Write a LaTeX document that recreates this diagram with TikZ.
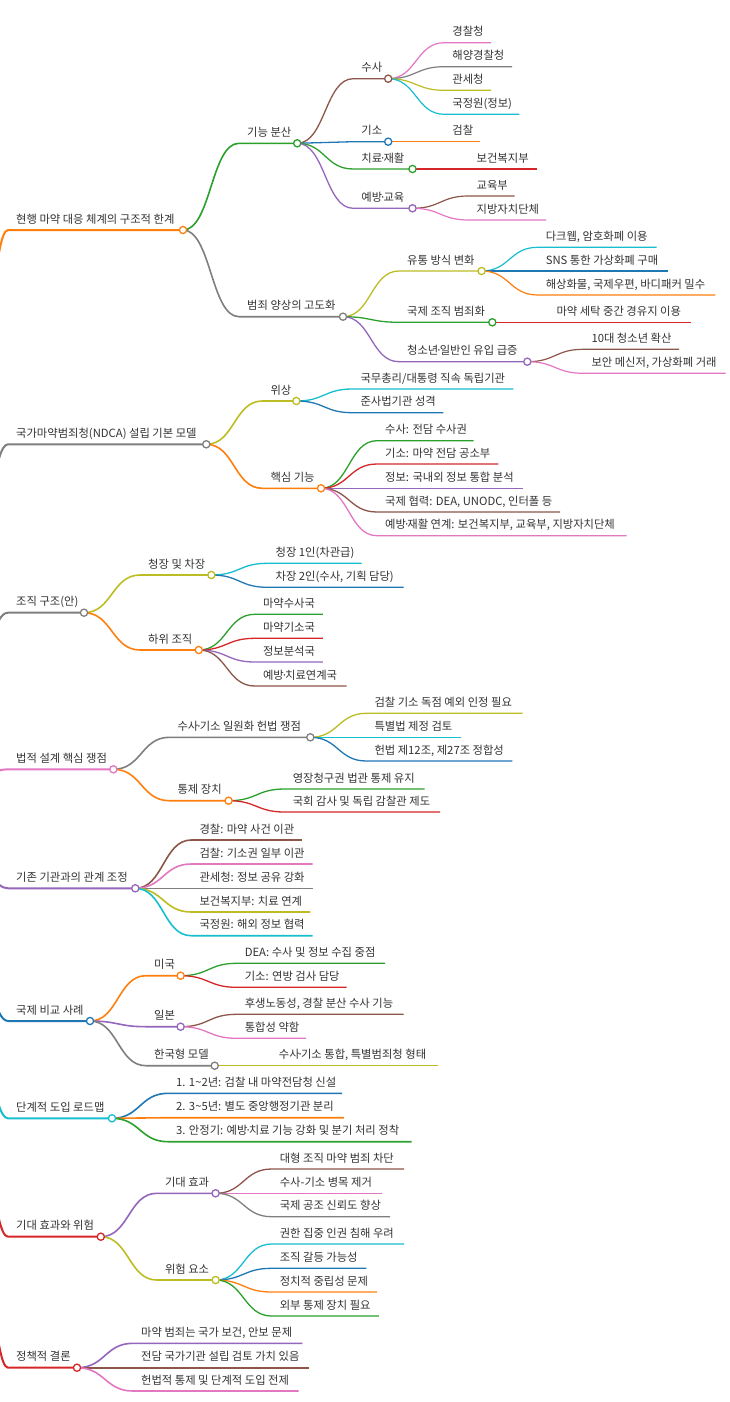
\documentclass[tikz,border=0pt]{standalone}
\usepackage{fontspec}
\newfontfamily\krfont{Noto Sans CJK KR}
\usetikzlibrary{calc}
\pgfdeclarelayer{bg}
\pgfsetlayers{bg,main}
\definecolor{cblue}{HTML}{1F77B4}
\definecolor{corange}{HTML}{FF7F0E}
\definecolor{cgreen}{HTML}{2CA02C}
\definecolor{cred}{HTML}{D62728}
\definecolor{cpurple}{HTML}{9467BD}
\definecolor{cbrown}{HTML}{8C564B}
\definecolor{cpink}{HTML}{E377C2}
\definecolor{cgray}{HTML}{7F7F7F}
\definecolor{colive}{HTML}{BCBD22}
\definecolor{ccyan}{HTML}{17BECF}
\definecolor{textgray}{HTML}{333333}
\newcommand\md{\kern-0.22em·\kern-0.22em}
\tikzset{
  lva/.style={line width=2pt},
  lvb/.style={line width=1.6pt},
  lvc/.style={line width=1.3pt},
  lvd/.style={line width=1.2pt},
  lbl/.style={anchor=base west, inner sep=0pt, text=textgray, font=\krfont\fontsize{11.3}{13}\selectfont},
  dot/.style={circle, fill=white, inner sep=0pt, minimum size=7.2pt, line width=1.3pt},
}
% #1 name, #2 parent, #3 level style, #4 colour, #5 left x, #6 y, #7 right x, #8 text
\newcommand\mmleaf[8]{%
  \coordinate (#1-l) at (#5,#6);
  \coordinate (#1-r) at (#7,#6);
  \begin{pgfonlayer}{bg}
    \draw[#3,#4] let \p1=(#2), \p2=(#1-l) in
      (\p1) .. controls ({(\x1+\x2)/2},\y1) and ({(\x1+\x2)/2},\y2) .. (\p2) -- (#1-r);
  \end{pgfonlayer}
  \node[lbl] (#1-t) at ([xshift=8pt,yshift=6.8pt]#1-l) {#8};
}
\newcommand\mmnode[8]{%
  \mmleaf{#1}{#2}{#3}{#4}{#5}{#6}{#7}{#8}
  \node[dot, draw=#4] (#1) at (#1-r) {};
}
\begin{document}
\begin{tikzpicture}[x=1pt,y=-1pt]
\begin{pgfonlayer}{bg}
\fill[white] (0,0) rectangle (729,1402);
\end{pgfonlayer}
\useasboundingbox (0,0) rectangle (729,1402);
\coordinate (root) at (-48,799);

% 1
\mmnode{a}{root}{lva}{corange}{8}{230}{183}{현행 마약 대응 체계의 구조적 한계}
\mmnode{a1}{a}{lvb}{cgreen}{239}{143.3}{297.2}{기능 분산}
\mmnode{a11}{a1}{lvc}{cbrown}{353.2}{78.7}{388.2}{수사}
\mmleaf{a111}{a11}{lvd}{cpink}{444.2}{42.7}{491}{경찰청}
\mmleaf{a112}{a11}{lvd}{cgray}{444.2}{66.7}{512}{해양경찰청}
\mmleaf{a113}{a11}{lvd}{colive}{444.2}{90.3}{491}{관세청}
\mmleaf{a114}{a11}{lvd}{ccyan}{444.2}{114.3}{519.4}{국정원(정보)}
\mmnode{a12}{a1}{lvc}{cblue}{353.2}{141.7}{388.2}{기소}
\mmleaf{a121}{a12}{lvd}{corange}{444.2}{141.7}{479.7}{검찰}
\mmnode{a13}{a1}{lvc}{cgreen}{353.2}{169}{412.5}{치료\md 재활}
\mmleaf{a131}{a13}{lvd}{cred}{468.5}{169}{536.6}{보건복지부}
\mmnode{a14}{a1}{lvc}{cpurple}{353.2}{208.3}{412.5}{예방\md 교육}
\mmleaf{a141}{a14}{lvd}{cbrown}{468.5}{196}{514.7}{교육부}
\mmleaf{a142}{a14}{lvd}{cpink}{468.5}{220}{546}{지방자치단체}
\mmnode{a2}{a}{lvb}{cgray}{239}{316.7}{343}{범죄 양상의 고도화}
\mmnode{a21}{a2}{lvc}{colive}{399}{271}{481.6}{유통 방식 변화}
\mmleaf{a211}{a21}{lvd}{ccyan}{537.6}{247.3}{656.6}{다크웹, 암호화폐 이용}
\mmleaf{a212}{a21}{lvd}{cblue}{537.6}{271}{668.2}{SNS 통한 가상화폐 구매}
\mmleaf{a213}{a21}{lvd}{corange}{537.6}{295}{715.3}{해상화물, 국제우편, 바디패커 밀수}
\mmnode{a22}{a2}{lvc}{cgreen}{399}{322.3}{492.3}{국제 조직 범죄화}
\mmleaf{a221}{a22}{lvd}{cred}{548.3}{322.3}{690.6}{마약 세탁 중간 경유지 이용}
\mmnode{a23}{a2}{lvc}{cpurple}{399}{361.7}{527.3}{청소년\md 일반인 유입 급증}
\mmleaf{a231}{a23}{lvd}{cbrown}{583.3}{349.3}{679}{10대 청소년 확산}
\mmleaf{a232}{a23}{lvd}{cpink}{583.3}{373.3}{725.6}{보안 메신저, 가상화폐 거래}

% 2
\mmnode{b}{root}{lva}{cgray}{8}{444.3}{206.3}{국가마약범죄청(NDCA) 설립 기본 모델}
\mmnode{b1}{b}{lvb}{colive}{262.3}{401}{296.3}{위상}
\mmleaf{b11}{b1}{lvc}{ccyan}{352.3}{389}{513.3}{국무총리/대통령 직속 독립기관}
\mmleaf{b12}{b1}{lvc}{cblue}{352.3}{412.7}{443.3}{준사법기관 성격}
\mmnode{b2}{b}{lvb}{corange}{262.3}{488.3}{321}{핵심 기능}
\mmleaf{b21}{b2}{lvc}{cgreen}{377}{440.7}{473.6}{수사: 전담 수사권}
\mmleaf{b22}{b2}{lvc}{cred}{377}{464}{498.4}{기소: 마약 전담 공소부}
\mmleaf{b23}{b2}{lvc}{cpurple}{377}{488.3}{522.6}{정보: 국내외 정보 통합 분석}
\mmleaf{b24}{b2}{lvc}{cbrown}{377}{512}{560}{국제 협력: DEA, UNODC, 인터폴 등}
\mmleaf{b25}{b2}{lvc}{cpink}{377}{535.7}{626.7}{예방\md 재활 연계: 보건복지부, 교육부, 지방자치단체}

% 3
\mmnode{c}{root}{lva}{cgray}{8}{612.7}{84}{조직 구조(안)}
\mmnode{c1}{c}{lvb}{colive}{140}{575}{211.4}{청장 및 차장}
\mmleaf{c11}{c1}{lvc}{ccyan}{267.4}{563.3}{361.6}{청장 1인(차관급)}
\mmleaf{c12}{c1}{lvc}{cblue}{267.4}{587.3}{403.6}{차장 2인(수사, 기획 담당)}
\mmnode{c2}{c}{lvb}{corange}{140}{650}{198.8}{하위 조직}
\mmleaf{c21}{c2}{lvc}{cgreen}{254.8}{614.3}{322.9}{마약수사국}
\mmleaf{c22}{c2}{lvc}{cred}{254.8}{638.3}{322.9}{마약기소국}
\mmleaf{c23}{c2}{lvc}{cpurple}{254.8}{662}{322.9}{정보분석국}
\mmleaf{c24}{c2}{lvc}{cbrown}{254.8}{686}{346.7}{예방\md 치료연계국}

% 4
\mmnode{d}{root}{lva}{cpink}{8}{769.3}{113.4}{법적 설계 핵심 쟁점}
\mmnode{d1}{d}{lvb}{cgray}{169.4}{737.3}{310.3}{수사\md 기소 일원화 헌법 쟁점}
\mmleaf{d11}{d1}{lvc}{colive}{366.3}{713.3}{522.6}{검찰 기소 독점 예외 인정 필요}
\mmleaf{d12}{d1}{lvc}{ccyan}{366.3}{737.3}{461}{특별법 제정 검토}
\mmleaf{d13}{d1}{lvc}{cblue}{366.3}{761}{512.4}{헌법 제12조, 제27조 정합성}
\mmnode{d2}{d}{lvb}{corange}{169.4}{800.7}{228.6}{통제 장치}
\mmleaf{d21}{d2}{lvc}{cgreen}{284.6}{789}{424.6}{영장청구권 법관 통제 유지}
\mmleaf{d22}{d2}{lvc}{cred}{284.6}{812}{440}{국회 감사 및 독립 감찰관 제도}

% 5
\mmnode{e}{root}{lva}{cpurple}{8}{888.3}{135.3}{기존 기관과의 관계 조정}
\mmleaf{e1}{e}{lvb}{cbrown}{191.3}{840}{301.9}{경찰: 마약 사건 이관}
\mmleaf{e2}{e}{lvb}{cpink}{191.3}{864}{312.6}{검찰: 기소권 일부 이관}
\mmleaf{e3}{e}{lvb}{cgray}{191.3}{888.3}{312.6}{관세청: 정보 공유 강화}
\mmleaf{e4}{e}{lvb}{colive}{191.3}{912}{310.3}{보건복지부: 치료 연계}
\mmleaf{e5}{e}{lvb}{ccyan}{191.3}{935.7}{312.6}{국정원: 해외 정보 협력}

% 6
\mmnode{f}{root}{lva}{cblue}{8}{1021}{90}{국제 비교 사례}
\mmnode{f1}{f}{lvb}{corange}{146}{975.7}{180.6}{미국}
\mmleaf{f11}{f1}{lvc}{cgreen}{236.6}{963.3}{385}{DEA: 수사 및 정보 수집 중점}
\mmleaf{f12}{f1}{lvc}{cred}{236.6}{987.3}{346.7}{기소: 연방 검사 담당}
\mmnode{f2}{f}{lvb}{cpurple}{146}{1026.7}{180.6}{일본}
\mmleaf{f21}{f2}{lvc}{cbrown}{236.6}{1014.3}{403.6}{후생노동성, 경찰 분산 수사 기능}
\mmleaf{f22}{f2}{lvc}{cpink}{236.6}{1038.3}{306.1}{통합성 약함}
\mmnode{f3}{f}{lvb}{cgray}{146}{1065.7}{214.7}{한국형 모델}
\mmleaf{f31}{f3}{lvc}{colive}{270.7}{1065.7}{437.7}{수사\md 기소 통합, 특별범죄청 형태}

% 7
\mmnode{g}{root}{lva}{ccyan}{8}{1118.3}{112}{단계적 도입 로드맵}
\mmleaf{g1}{g}{lvb}{cblue}{168}{1093.3}{342}{1. 1\textasciitilde 2년: 검찰 내 마약전담청 신설}
\mmleaf{g2}{g}{lvb}{corange}{168}{1117.7}{343.9}{2. 3\textasciitilde 5년: 별도 중앙행정기관 분리}
\mmleaf{g3}{g}{lvb}{cgreen}{168}{1141.7}{411.6}{3. 안정기: 예방\md 치료 기능 강화 및 분기 처리 정착}

% 8
\mmnode{h}{root}{lva}{cred}{8}{1236.7}{100.8}{기대 효과와 위험}
\mmnode{h1}{h}{lvb}{cpurple}{156.8}{1193.3}{215.6}{기대 효과}
\mmleaf{h11}{h1}{lvc}{cbrown}{271.6}{1169}{404.1}{대형 조직 마약 범죄 차단}
\mmleaf{h12}{h1}{lvc}{cpink}{271.6}{1193.3}{381.7}{수사-기소 병목 제거}
\mmleaf{h13}{h1}{lvc}{cgray}{271.6}{1216.7}{390.1}{국제 공조 신뢰도 향상}
\mmnode{h2}{h}{lvb}{colive}{156.8}{1280}{215.6}{위험 요소}
\mmleaf{h21}{h2}{lvc}{ccyan}{271.6}{1244}{404.1}{권한 집중 인권 침해 우려}
\mmleaf{h22}{h2}{lvc}{cblue}{271.6}{1268.3}{366.3}{조직 갈등 가능성}
\mmleaf{h23}{h2}{lvc}{corange}{271.6}{1292}{377}{정치적 중립성 문제}
\mmleaf{h24}{h2}{lvc}{cgreen}{271.6}{1316}{378.9}{외부 통제 장치 필요}

% 9
\mmnode{i}{root}{lva}{cred}{8}{1367.7}{77}{정책적 결론}
\mmleaf{i1}{i}{lvb}{cpurple}{133}{1343.3}{302.4}{마약 범죄는 국가 보건, 안보 문제}
\mmleaf{i2}{i}{lvb}{cbrown}{133}{1367.7}{309.4}{전담 국가기관 설립 검토 가치 있음}
\mmleaf{i3}{i}{lvb}{cpink}{133}{1391}{298.6}{헌법적 통제 및 단계적 도입 전제}
\end{tikzpicture}
\end{document}
